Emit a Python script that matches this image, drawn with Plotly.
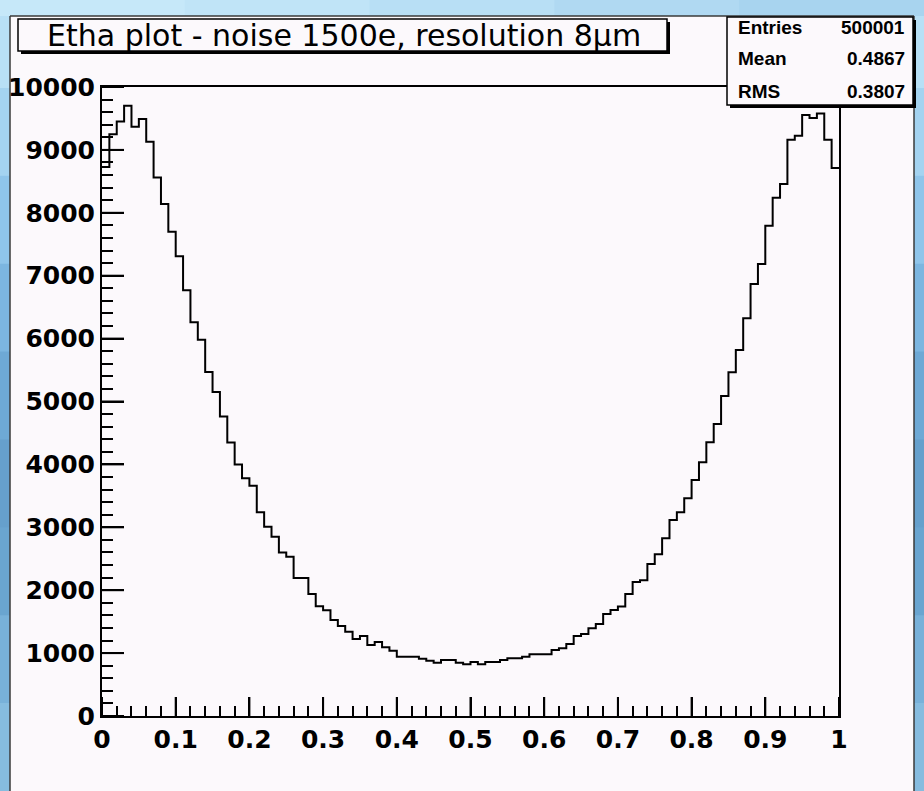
import numpy as np
import plotly.graph_objects as go

# ---------------- data ----------------
bin_low = 0.0
bin_high = 1.0
n_bins = 100
counts = [
    8730, 9250, 9450, 9700, 9370, 9490, 9130, 8560, 8140, 7700,
    7310, 6770, 6260, 5980, 5470, 5150, 4760, 4350, 4000, 3780,
    3660, 3240, 3010, 2850, 2600, 2530, 2195, 2195, 1940, 1745,
    1680, 1525, 1431, 1341, 1224, 1272, 1129, 1176, 1092, 1039,
    943, 943, 943, 911, 880, 848, 890, 890, 848, 821,
    859, 821, 859, 859, 890, 917, 917, 943, 980, 980,
    980, 1049, 1076, 1145, 1272, 1304, 1394, 1463, 1620, 1685,
    1740, 1940, 2130, 2157, 2417, 2570, 2825, 3116, 3238, 3461,
    3752, 4033, 4351, 4642, 5087, 5464, 5819, 6325, 6868, 7185,
    7793, 8240, 8458, 9160, 9224, 9555, 9507, 9577, 9160, 8712,
]
x_tick_vals = [0, 0.1, 0.2, 0.3, 0.4, 0.5, 0.6, 0.7, 0.8, 0.9, 1.0]
x_tick_text = ["0", "0.1", "0.2", "0.3", "0.4", "0.5", "0.6", "0.7", "0.8", "0.9", "1"]
y_tick_vals = [0, 1000, 2000, 3000, 4000, 5000, 6000, 7000, 8000, 9000, 10000]
y_tick_text = ["0", "1000", "2000", "3000", "4000", "5000", "6000", "7000", "8000", "9000", "10000"]
x_minor_step = 0.02
y_minor_step = 200
title_text = "Etha plot - noise 1500e, resolution 8\u03bcm"
stats_labels = ["Entries", "Mean", "RMS"]
stats_values = ["500001", "0.4867", "0.3807"]

# ---------------- geometry / style ----------------
W, H = 924, 791
L, R, T, B = 102, 839, 87, 716
y_max = 10000
canvas_bg = "#fcf9fc"
FONT = "DejaVu Sans"
X_MAJOR_LEN = 19
Y_MAJOR_LEN = 22


def px(xp):
    return (xp - L) / (R - L)


def py(yp):
    return (B - yp) / (B - T)


edges = np.linspace(bin_low, bin_high, n_bins + 1)
x_step = list(edges)
y_step = list(counts) + [counts[-1]]

# major tick segments expressed in axis units (tick length in px -> data units)
x_tick_dy = X_MAJOR_LEN / (B - T) * y_max
y_tick_dx = Y_MAJOR_LEN / (R - L) * (bin_high - bin_low)
xt_x, xt_y = [], []
for v in x_tick_vals:
    xt_x += [v, v, None]
    xt_y += [0, x_tick_dy, None]
yt_x, yt_y = [], []
for v in y_tick_vals:
    yt_x += [bin_low, bin_low + y_tick_dx, None]
    yt_y += [v, v, None]

fig = go.Figure()
# invisible copy on the overlay axes so that the minor-tick axes are rendered
fig.add_trace(go.Scatter(
    x=x_step, y=y_step, mode="lines", xaxis="x2", yaxis="y2",
    line=dict(shape="hv", color="rgba(0,0,0,0)", width=0),
    hoverinfo="skip", showlegend=False,
))
fig.add_trace(go.Scatter(
    x=xt_x, y=xt_y, mode="lines", connectgaps=False,
    line=dict(color="black", width=2), hoverinfo="skip", showlegend=False,
))
fig.add_trace(go.Scatter(
    x=yt_x, y=yt_y, mode="lines", connectgaps=False,
    line=dict(color="black", width=2), hoverinfo="skip", showlegend=False,
))
fig.add_trace(go.Scatter(
    x=x_step, y=y_step, mode="lines",
    line=dict(shape="hv", color="black", width=2),
    hoverinfo="skip", showlegend=False,
))

shapes = []

# blue frame bands (gradient approximated with segments)
band_cols = ["#b8e0f6", "#a4d3f0", "#8fc5ea", "#7cb6e0", "#6ea9d5",
             "#66a0cc", "#6aa5d0", "#78b1d9", "#86bcdf"]
nseg = len(band_cols)
for i, c in enumerate(band_cols):
    y0 = i * H / nseg
    y1 = (i + 1) * H / nseg + 1
    for (xa, xb) in [(0, 10), (914, W)]:
        shapes.append(dict(type="rect", xref="paper", yref="paper",
                           x0=px(xa), x1=px(xb), y0=py(y0), y1=py(y1),
                           fillcolor=c, line=dict(width=0), layer="below"))
top_cols = ["#c6e8f9", "#c0e4f7", "#b8dff5", "#b0d9f2", "#a8d4ef"]
for i, c in enumerate(top_cols):
    x0 = i * W / len(top_cols)
    x1 = (i + 1) * W / len(top_cols) + 1
    shapes.append(dict(type="rect", xref="paper", yref="paper",
                       x0=px(x0), x1=px(x1), y0=py(0), y1=py(16),
                       fillcolor=c, line=dict(width=0), layer="below"))
# canvas border
for (xa, ya, xb, yb) in [(10, 16, 10, H), (10, 16, 914, 16), (914, 16, 914, H)]:
    shapes.append(dict(type="line", xref="paper", yref="paper",
                       x0=px(xa), x1=px(xb), y0=py(ya), y1=py(yb),
                       line=dict(color="#3a3a3a", width=1.5), layer="below"))

# title box with shadow
shapes.append(dict(type="rect", xref="paper", yref="paper",
                   x0=px(21), x1=px(670), y0=py(22), y1=py(54),
                   fillcolor="black", line=dict(width=0)))
shapes.append(dict(type="rect", xref="paper", yref="paper",
                   x0=px(18), x1=px(667), y0=py(19), y1=py(51),
                   fillcolor=canvas_bg, line=dict(color="black", width=1.5)))
# stats box with shadow
shapes.append(dict(type="rect", xref="paper", yref="paper",
                   x0=px(730), x1=px(916), y0=py(20), y1=py(108),
                   fillcolor="black", line=dict(width=0)))
shapes.append(dict(type="rect", xref="paper", yref="paper",
                   x0=px(727), x1=px(913), y0=py(17), y1=py(105),
                   fillcolor=canvas_bg, line=dict(color="black", width=1.5)))

annotations = [dict(
    text=title_text, xref="paper", yref="paper", x=px(344), y=py(35),
    xanchor="center", yanchor="middle", showarrow=False,
    font=dict(family=FONT, size=30, color="black"),
)]
row_y = [27, 58, 91]
for lab, val, yy in zip(stats_labels, stats_values, row_y):
    annotations.append(dict(text=lab, xref="paper", yref="paper", x=px(736), y=py(yy),
                            xanchor="left", yanchor="middle", showarrow=False,
                            font=dict(family="Liberation Sans", size=19, color="black", weight="bold")))
    annotations.append(dict(text=val, xref="paper", yref="paper", x=px(907), y=py(yy),
                            xanchor="right", yanchor="middle", showarrow=False,
                            font=dict(family="Liberation Sans", size=19, color="black", weight="bold")))

tickfont = dict(family=FONT, size=25, color="black", weight="bold")
tick_only = dict(showticklabels=False, showline=False, showgrid=False, zeroline=False,
                 automargin=False, tickwidth=2, tickcolor="black", ticks="inside")

fig.update_layout(
    width=W, height=H,
    margin=dict(l=L, r=W - R, t=T, b=H - B, pad=0),
    paper_bgcolor=canvas_bg, plot_bgcolor=canvas_bg,
    shapes=shapes, annotations=annotations,
    showlegend=False,
    xaxis=dict(
        range=[bin_low, bin_high], tickmode="array", tickvals=x_tick_vals, ticktext=x_tick_text,
        ticks="inside", ticklen=X_MAJOR_LEN, tickwidth=2, tickcolor="black",
        showline=True, linecolor="black", linewidth=2, mirror=True,
        showgrid=False, zeroline=False, tickfont=tickfont, automargin=False,
    ),
    yaxis=dict(
        range=[0, y_max], tickmode="array", tickvals=y_tick_vals, ticktext=y_tick_text,
        ticks="inside", ticklen=Y_MAJOR_LEN, tickwidth=2, tickcolor="black",
        showline=True, linecolor="black", linewidth=2, mirror=True,
        showgrid=False, zeroline=False, tickfont=tickfont, automargin=False,
    ),
    # minor ticks
    xaxis2=dict(overlaying="x", anchor="y2", side="bottom", matches="x",
                tickmode="linear", tick0=bin_low, dtick=x_minor_step, ticklen=10, **tick_only),
    yaxis2=dict(overlaying="y", anchor="x2", side="left", matches="y",
                tickmode="linear", tick0=0, dtick=y_minor_step, ticklen=11, **tick_only),
)

fig.write_html("out.html")
